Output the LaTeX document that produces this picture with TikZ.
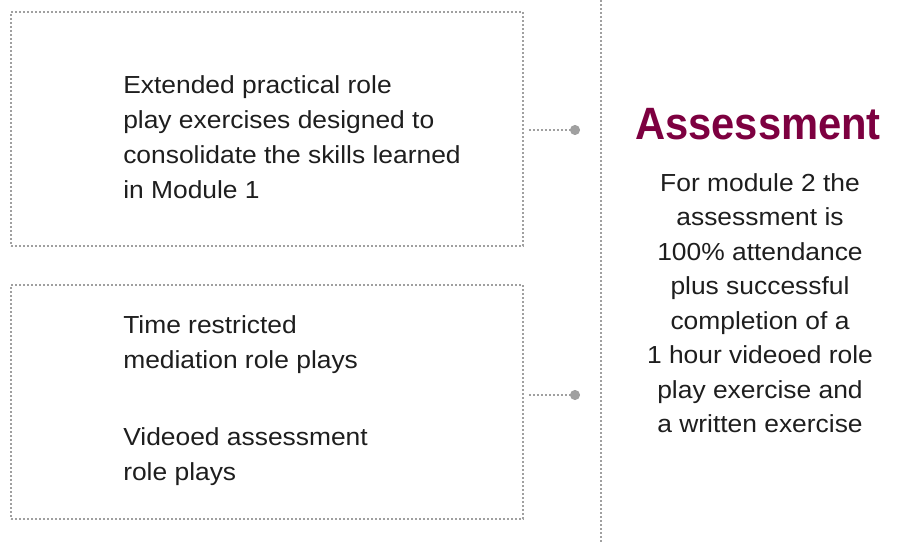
\documentclass[tikz,border=0pt]{standalone}
\usepackage{fontspec}
\setmainfont{Liberation Sans}
\newfontfamily\headfont[FakeStretch=0.92]{Liberation Sans}
\newfontfamily\wideface[FakeStretch=1.07]{Liberation Sans}
\definecolor{asmred}{HTML}{7D0040}
\definecolor{dotgrey}{HTML}{A0A0A0}
\definecolor{txtgrey}{HTML}{1E1E1E}
\tikzset{
  dotline/.style={draw=dotgrey,line width=1.4pt,dash pattern=on 1.4pt off 1.6pt},
  modbox/.style={dotline,minimum width=384pt,minimum height=175.5pt,inner sep=0pt},
  bodytext/.style={text=txtgrey,align=left,anchor=north west,inner sep=0pt,
    font=\wideface\fontsize{18.5}{26.25}\selectfont},
  asmtext/.style={text=txtgrey,align=center,anchor=north,inner sep=0pt,
    font=\wideface\fontsize{18.5}{25.9}\selectfont}
}
\begin{document}
\begin{tikzpicture}[x=0.75pt,y=-0.75pt]
  \useasboundingbox (0,0) rectangle (897,542);
  % boxes
  \node[modbox] (box1) at (267,129) {};
  \node[modbox] (box2) at (267,402) {};
  % box texts
  \node[bodytext] (txt1) at (123,75) {Extended practical role\\play exercises designed to\\consolidate the skills learned\\in Module 1};
  \node[bodytext] (txt2) at (123,315) {Time restricted\\mediation role plays};
  \node[bodytext] (txt3) at (123,427) {Videoed assessment\\role plays};
  % divider
  \coordinate (top) at (601,0);
  \coordinate (bot) at (601,542);
  \draw[dotline] (top) -- (bot);
  % connectors
  \coordinate (dot1) at (575,130);
  \coordinate (dot2) at (575,395);
  \draw[dotline] ([xshift=3.75pt]box1.east |- dot1) -- (dot1);
  \draw[dotline] ([xshift=3.75pt]box2.east |- dot2) -- (dot2);
  \fill[dotgrey] (dot1) circle (3.8pt);
  \fill[dotgrey] (dot2) circle (3.8pt);
  % assessment
  \node[text=asmred,anchor=base,inner sep=0pt,font=\headfont\fontsize{34}{40}\selectfont\bfseries] (head) at (758,140) {Assessment};
  \node[asmtext] (asm) at (760,173) {For module 2 the\\assessment is\\100\% attendance\\plus successful\\completion of a\\1 hour videoed role\\play exercise and\\a written exercise};
\end{tikzpicture}
\end{document}
